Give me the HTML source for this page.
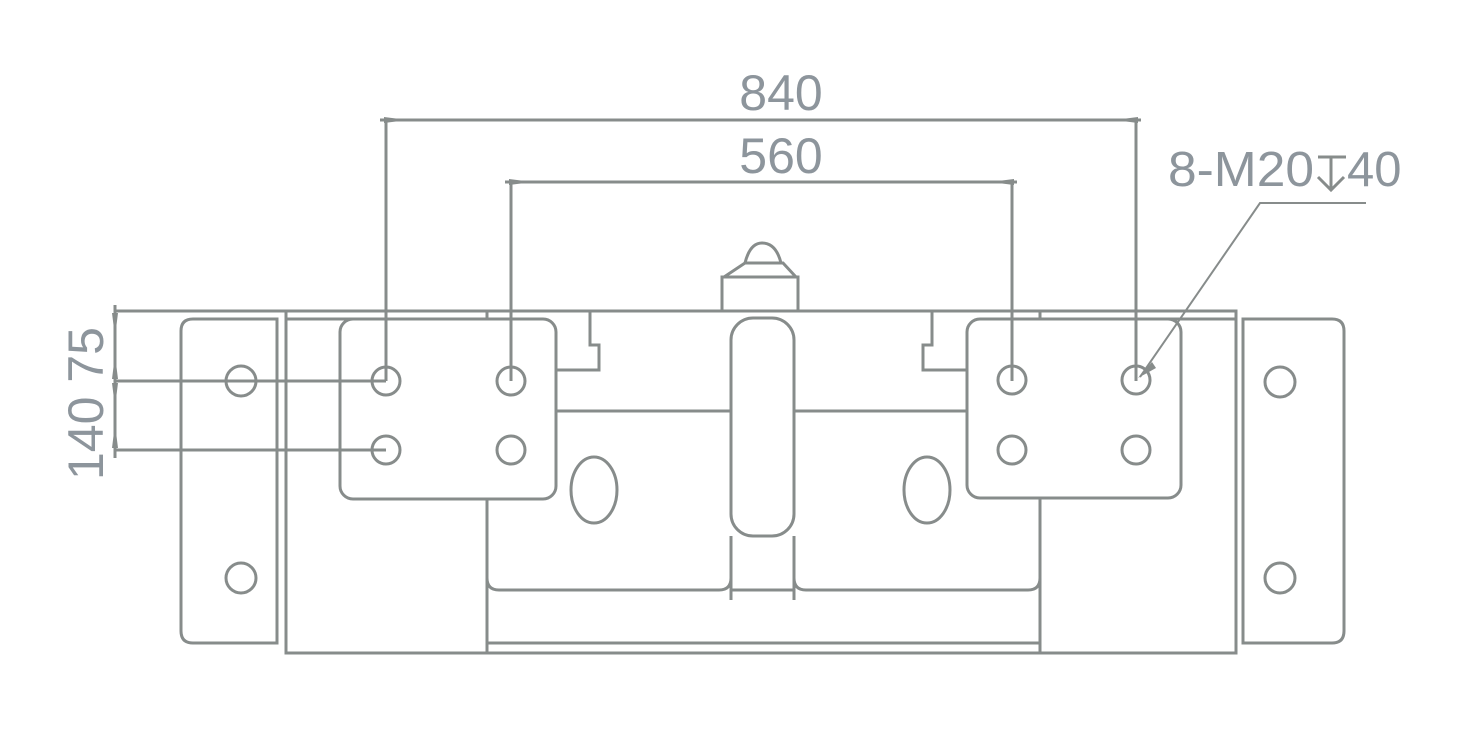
<!DOCTYPE html>
<html><head><meta charset="utf-8"><style>
html,body{margin:0;padding:0;background:#fff;}
svg{display:block;}
text{font-family:"Liberation Sans",sans-serif;fill:#8d959c;}
</style></head><body>
<svg width="1476" height="740" viewBox="0 0 1476 740" xmlns="http://www.w3.org/2000/svg">
<g fill="none" stroke="#878c8b" stroke-width="3">
<line x1="380" y1="120" x2="1141" y2="120"/>
<line x1="386" y1="120" x2="386" y2="381"/>
<line x1="1136" y1="120" x2="1136" y2="381"/>
<line x1="505" y1="182" x2="1017" y2="182"/>
<line x1="511" y1="182" x2="511" y2="381"/>
<line x1="1012" y1="182" x2="1012" y2="381"/>
<line x1="115" y1="305" x2="115" y2="458"/>
<line x1="115" y1="311" x2="286" y2="311"/>
<line x1="115" y1="381" x2="386" y2="381"/>
<line x1="115" y1="450" x2="386" y2="450"/>
<polyline points="1140,377 1260,203 1366,203" stroke-width="2"/>
<rect x="286" y="311" width="950" height="342"/>
<line x1="286" y1="319" x2="487" y2="319"/>
<line x1="1040" y1="319" x2="1236" y2="319"/>
<line x1="487" y1="311" x2="487" y2="320"/>
<line x1="1040" y1="311" x2="1040" y2="320"/>
<line x1="487" y1="643" x2="1040" y2="643"/>
<line x1="487" y1="498" x2="487" y2="653"/>
<line x1="1040" y1="498" x2="1040" y2="653"/>
<path d="M277,319 H193 Q181,319 181,331 V631 Q181,643 193,643 H277 Z"/>
<path d="M1243,319 H1332 Q1344,319 1344,331 V631 Q1344,643 1332,643 H1243 Z"/>
<circle cx="241" cy="381" r="15"/><circle cx="241" cy="578" r="15"/>
<circle cx="1280" cy="382" r="15"/><circle cx="1280" cy="578" r="15"/>
<rect x="340" y="319" width="216" height="180" rx="13"/>
<rect x="967" y="319" width="214" height="179" rx="13"/>
<circle cx="386" cy="381" r="14"/><circle cx="386" cy="450" r="14"/>
<circle cx="511" cy="381" r="14"/><circle cx="511" cy="450" r="14"/>
<circle cx="1012" cy="380" r="14"/><circle cx="1012" cy="450" r="14"/>
<circle cx="1136" cy="380" r="14"/><circle cx="1136" cy="450" r="14"/>
<polyline points="590,311 590,345 599,345 599,370 557,370"/>
<polyline points="932,311 932,345 923,345 923,370 967,370"/>
<path d="M557,411 H731 M487,499 V578 Q487,590 499,590 H719 Q731,590 731,578"/>
<path d="M794,411 H967 M1040,499 V578 Q1040,590 1028,590 H806 Q794,590 794,578"/>
<ellipse cx="594" cy="490" rx="23" ry="33"/>
<ellipse cx="927" cy="490" rx="23" ry="33"/>
<rect x="731" y="318" width="63" height="218" rx="22"/>
<line x1="731" y1="536" x2="731" y2="600"/>
<line x1="794" y1="536" x2="794" y2="600"/>
<line x1="731" y1="590" x2="794" y2="590"/>
<rect x="722" y="277" width="76" height="34"/>
<polyline points="724,277 745,263 783,263 796,277"/>
<path d="M745,263 Q750,243 762,243 Q776,243 781,263"/>
</g>
<g fill="#878c8b">
<polygon points="384,117 400,119 400,121 384,123"/>
<polygon points="1138,117 1122,119 1122,121 1138,123"/>
<polygon points="509,179 525,181 525,183 509,185"/>
<polygon points="1014,179 998,181 998,183 1014,185"/>
<polygon points="112,313 114,329 116,329 118,313"/>
<polygon points="112,379 114,363 116,363 118,379"/>
<polygon points="112,383 114,399 116,399 118,383"/>
<polygon points="112,448 114,432 116,432 118,448"/>
<polygon points="1138,378 1152,362 1156,368"/>
</g>
<text x="781" y="110" font-size="50" text-anchor="middle">840</text>
<text x="781" y="173" font-size="50" text-anchor="middle">560</text>
<text x="0" y="0" font-size="50" transform="translate(103,480) rotate(-90)">140 75</text>
<text x="1168" y="186" font-size="49" textLength="146" lengthAdjust="spacingAndGlyphs">8-M20</text>
<text x="1347" y="186" font-size="49">40</text>
<g stroke="#878c8b" stroke-width="3" fill="none">
<line x1="1318" y1="157" x2="1346" y2="157"/>
<line x1="1331" y1="157" x2="1331" y2="190"/>
<polyline points="1318,177 1331,190 1344,177"/>
</g>
</svg>
</body></html>
